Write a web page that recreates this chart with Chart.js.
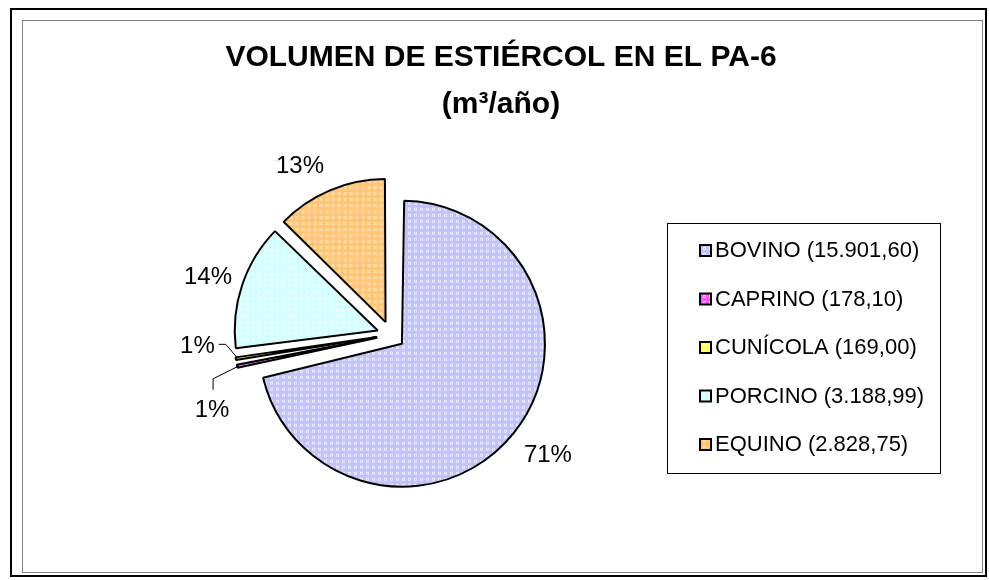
<!DOCTYPE html>
<html lang="es">
<head>
<meta charset="utf-8">
<title>Volumen de estiércol en el PA-6</title>
<script src="https://cdn.jsdelivr.net/npm/chart.js@4.4.1/dist/chart.umd.min.js"></script>
<style>
    html, body { margin: 0; padding: 0; background: #fff; }
    #graficaEstiercol { display: block; }
</style>
</head>
<body>
<canvas id="graficaEstiercol" width="989" height="580"></canvas>
<script>
// Datos
const especies = ['BOVINO', 'CAPRINO', 'CUNÍCOLA', 'PORCINO', 'EQUINO'];
const volumenes = [15901.60, 178.10, 169.00, 3188.99, 2828.75];
const etiquetasLeyenda = ['BOVINO (15.901,60)', 'CAPRINO (178,10)', 'CUNÍCOLA (169,00)', 'PORCINO (3.188,99)', 'EQUINO (2.828,75)'];
const titulo = ['VOLUMEN DE ESTIÉRCOL EN EL PA-6', '(m³/año)'];

const coloresBase = ['#c3c3f7', '#f25cf2', '#ffff62', '#d2ffff', '#ffc576'];
const coloresPunto = ['#e8e8ff', '#ffa6ff', '#ffffbe', '#f2ffff', '#ffe2b4'];

const FUENTE = '"Liberation Sans", Arial, sans-serif';
const RADIO = 143;        // radio de la tarta en px
const DESPLAZ = 14;       // separacion de cada porcion

// trama de puntos tipo Excel
function crearTrama(base, punto) {
    const c = document.createElement('canvas');
    c.width = 6;
    c.height = 6;
    const g = c.getContext('2d');
    g.fillStyle = base;
    g.fillRect(0, 0, 6, 6);
    g.fillStyle = punto;
    g.fillRect(1, 1, 3, 3);
    g.fillStyle = base;
    g.fillRect(2, 2, 1, 1);
    return g.createPattern(c, 'repeat');
}

const tramas = coloresBase.map((c, i) => crearTrama(c, coloresPunto[i]));

// Chart.js agranda el radio de las porciones separadas; se corrige aqui
const radioFijo = {
    id: 'radioFijo',
    beforeDatasetsDraw(chart) {
        const meta = chart.getDatasetMeta(0);
        meta.data.forEach(arco => {
            const d = (arco.options.offset || 0) / 4;
            const fix = 1 - Math.sin(Math.min(Math.PI, arco.circumference));
            arco.outerRadius = RADIO - d * fix;
        });
    }
};

// lineas guia para las porciones pequenas (relativas al borde de la porcion)
const guias = {
    1: { codo: [-26, 13], fin: [0, 11], texto: [-1, 21], alinear: 'center' },
    2: { codo: [-12, -14], fin: [-7, 0], texto: [-4, 2], alinear: 'right' }
};
// pequeno ajuste de las etiquetas grandes, como las coloca Excel
const ajusteEtiqueta = {
    0: [6, 0],
    3: [0, 4],
    4: [-16, 9]
};

const decorado = {
    id: 'decorado',
    beforeDraw(chart) {
        const ctx = chart.ctx;
        ctx.save();
        ctx.fillStyle = '#fff';
        ctx.fillRect(0, 0, chart.width, chart.height);
        ctx.strokeStyle = '#000';
        ctx.lineWidth = 2;
        ctx.strokeRect(11, 9, 975, 567);
        ctx.strokeStyle = '#808080';
        ctx.lineWidth = 1;
        ctx.strokeRect(22.5, 20.5, 960, 552);
        ctx.restore();
    },
    afterDatasetsDraw(chart) {
        const ctx = chart.ctx;
        const meta = chart.getDatasetMeta(0);
        const total = volumenes.reduce((a, b) => a + b, 0);
        ctx.save();
        ctx.font = '24px ' + FUENTE;
        ctx.fillStyle = '#000';
        ctx.strokeStyle = '#000';
        ctx.lineWidth = 1;
        meta.data.forEach((arco, i) => {
            const medio = (arco.startAngle + arco.endAngle) / 2;
            const dx = Math.cos(medio), dy = Math.sin(medio);
            const texto = Math.round(volumenes[i] / total * 100) + '%';
            const guia = guias[i];
            if (!guia) {
                const dist = RADIO + 50;
                const aj = ajusteEtiqueta[i] || [0, 0];
                ctx.textAlign = 'center';
                ctx.textBaseline = 'middle';
                ctx.fillText(texto, arco.x + dx * dist + aj[0], arco.y + dy * dist + aj[1]);
                return;
            }
            const px = arco.x + dx * (RADIO + DESPLAZ - 2);
            const py = arco.y + dy * (RADIO + DESPLAZ - 2);
            const cx = px + guia.codo[0], cy = py + guia.codo[1];
            const fx = cx + guia.fin[0], fy = cy + guia.fin[1];
            ctx.beginPath();
            ctx.moveTo(px, py);
            ctx.lineTo(cx, cy);
            ctx.lineTo(fx, fy);
            ctx.stroke();
            ctx.textAlign = guia.alinear;
            ctx.textBaseline = 'middle';
            ctx.fillText(texto, fx + guia.texto[0], fy + guia.texto[1]);
        });
        ctx.restore();
    },
    afterDraw(chart) {
        const ctx = chart.ctx;
        ctx.save();
        // titulo
        ctx.fillStyle = '#000';
        ctx.textAlign = 'center';
        ctx.textBaseline = 'alphabetic';
        ctx.font = 'bold 30px ' + FUENTE;
        ctx.fillText(titulo[0], 501, 66);
        ctx.fillText(titulo[1], 501, 113);

        // leyenda
        ctx.strokeStyle = '#000';
        ctx.lineWidth = 1;
        ctx.strokeRect(667.5, 223.5, 273, 250);
        ctx.font = '22px ' + FUENTE;
        ctx.textAlign = 'left';
        ctx.textBaseline = 'middle';
        etiquetasLeyenda.forEach((txt, i) => {
            const y = 250 + i * 48.5;
            ctx.fillStyle = tramas[i];
            ctx.fillRect(700, y - 5, 11, 11);
            ctx.lineWidth = 2;
            ctx.strokeRect(700, y - 5, 11, 11);
            ctx.fillStyle = '#000';
            ctx.fillText(txt, 715, y + 1);
        });
        ctx.restore();
    }
};

const ctxTarta = document.getElementById('graficaEstiercol').getContext('2d');

const grafica = new Chart(ctxTarta, {
    type: 'pie',
    data: {
        labels: especies,
        datasets: [{
            data: volumenes,
            backgroundColor: tramas,
            borderColor: '#000',
            borderWidth: 2,
            offset: DESPLAZ * 4,
            hoverOffset: 0,
            radius: RADIO
        }]
    },
    options: {
        responsive: false,
        devicePixelRatio: 1,
        animation: false,
        events: [],
        layout: {
            padding: { left: 191, right: 398, top: 135, bottom: 45 }
        },
        plugins: {
            legend: { display: false },
            title: { display: false },
            tooltip: { enabled: false }
        }
    },
    plugins: [radioFijo, decorado]
});
</script>
</body>
</html>
